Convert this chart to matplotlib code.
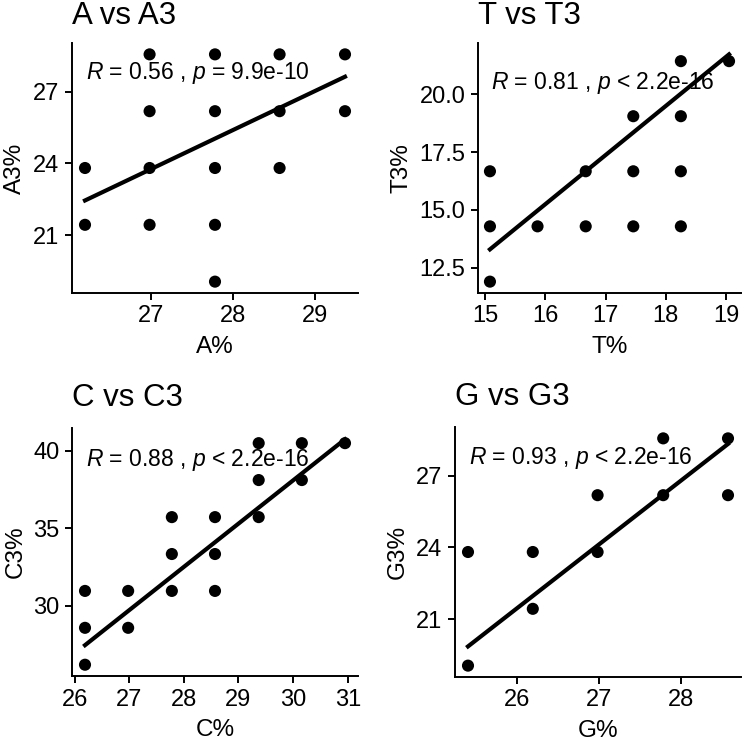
import numpy as np
import matplotlib
matplotlib.use("Agg")
import matplotlib.pyplot as plt

plt.rcParams['font.family'] = ['Liberation Sans', 'DejaVu Sans']
plt.rcParams['mathtext.fontset'] = 'custom'
plt.rcParams['mathtext.rm'] = 'Liberation Sans'
plt.rcParams['mathtext.it'] = 'Liberation Sans:italic'

# A vs A3
a_x = [26.19, 26.19, 26.98, 26.98, 26.98, 26.98, 27.78, 27.78, 27.78, 27.78, 27.78,
       28.57, 28.57, 28.57, 29.37, 29.37]
a_y = [23.81, 21.43, 28.57, 26.19, 23.81, 21.43, 28.57, 26.19, 23.81, 21.43, 19.05,
       28.57, 26.19, 23.81, 28.57, 26.19]
a_fit = (1.63, -20.24)
a_label = r"$\it{R}$ = 0.56 , $\it{p}$ = 9.9e-10"

# T vs T3
t_x = [15.08, 15.08, 15.08, 15.87, 16.67, 16.67, 17.46, 17.46, 17.46,
       18.25, 18.25, 18.25, 18.25, 19.05]
t_y = [16.67, 14.29, 11.90, 14.29, 16.67, 14.29, 19.05, 16.67, 14.29,
       21.43, 19.05, 16.67, 14.29, 21.43]
t_fit = (2.123, -18.72)
t_label = r"$\it{R}$ = 0.81 , $\it{p}$ < 2.2e-16"

# C vs C3
c_x = [26.19, 26.19, 26.19, 26.98, 26.98, 27.78, 27.78, 27.78, 28.57, 28.57, 28.57,
       29.37, 29.37, 29.37, 30.16, 30.16, 30.95]
c_y = [30.95, 28.57, 26.19, 30.95, 28.57, 35.71, 33.33, 30.95, 35.71, 33.33, 30.95,
       40.48, 38.10, 35.71, 40.48, 38.10, 40.48]
c_fit = (2.79, -45.62)
c_label = r"$\it{R}$ = 0.88 , $\it{p}$ < 2.2e-16"

# G vs G3
g_x = [25.40, 25.40, 26.19, 26.19, 26.98, 26.98, 27.78, 27.78, 28.57, 28.57]
g_y = [23.81, 19.05, 23.81, 21.43, 26.19, 23.81, 28.57, 26.19, 28.57, 26.19]
g_fit = (2.675, -48.09)
g_label = r"$\it{R}$ = 0.93 , $\it{p}$ < 2.2e-16"

W, H = 744, 741
fig = plt.figure(figsize=(W / 100, H / 100), dpi=100)


def px_axes(left, top, right, bottom):
    return fig.add_axes([left / W, (H - bottom) / H, (right - left) / W, (bottom - top) / H])


def panel(ax, x, y, fit, label, label_y, title, xlab, ylab, xticks, yticks, yfmt, title_pad):
    x = np.array(x)
    y = np.array(y)
    ax.scatter(x, y, s=76, color='black', edgecolors='none', zorder=3)
    xs = np.array([x.min(), x.max()])
    ax.plot(xs, fit[0] * xs + fit[1], color='black', lw=3.0, zorder=2)
    ax.margins(0.05)
    ax.set_xticks(xticks)
    ax.set_yticks(yticks)
    ax.set_yticklabels([yfmt % v for v in yticks])
    for s in ['top', 'right']:
        ax.spines[s].set_visible(False)
    for s in ['left', 'bottom']:
        ax.spines[s].set_linewidth(1.4)
    ax.tick_params(length=4.7, width=1.4, labelsize=17, color='black', pad=4.3)
    ax.set_xlabel(xlab, fontsize=17.5, labelpad=6)
    ax.set_ylabel(ylab, fontsize=17.5, labelpad=5)
    ax.set_title(title, loc='left', fontsize=22.5, pad=title_pad)
    ax.text(0.05, label_y, label, transform=ax.transAxes, fontsize=16.5,
            ha='left', va='center')


ax1 = px_axes(72, 43, 358, 293)
panel(ax1, a_x, a_y, a_fit, a_label, 0.88, "A vs A3", "A%", "A3%",
      [27, 28, 29], [21, 24, 27], "%d", 14)

ax2 = px_axes(478, 43, 741, 293)
panel(ax2, t_x, t_y, t_fit, t_label, 0.84, "T vs T3", "T%", "T3%",
      [15, 16, 17, 18, 19], [12.5, 15.0, 17.5, 20.0], "%.1f", 14)

ax3 = px_axes(72, 428, 358, 676)
panel(ax3, c_x, c_y, c_fit, c_label, 0.871, "C vs C3", "C%", "C3%",
      [26, 27, 28, 29, 30, 31], [30, 35, 40], "%d", 16)

ax4 = px_axes(455, 427, 741, 677)
panel(ax4, g_x, g_y, g_fit, g_label, 0.876, "G vs G3", "G%", "G3%",
      [26, 27, 28], [21, 24, 27], "%d", 16)

fig.savefig("out.png", dpi=100)
